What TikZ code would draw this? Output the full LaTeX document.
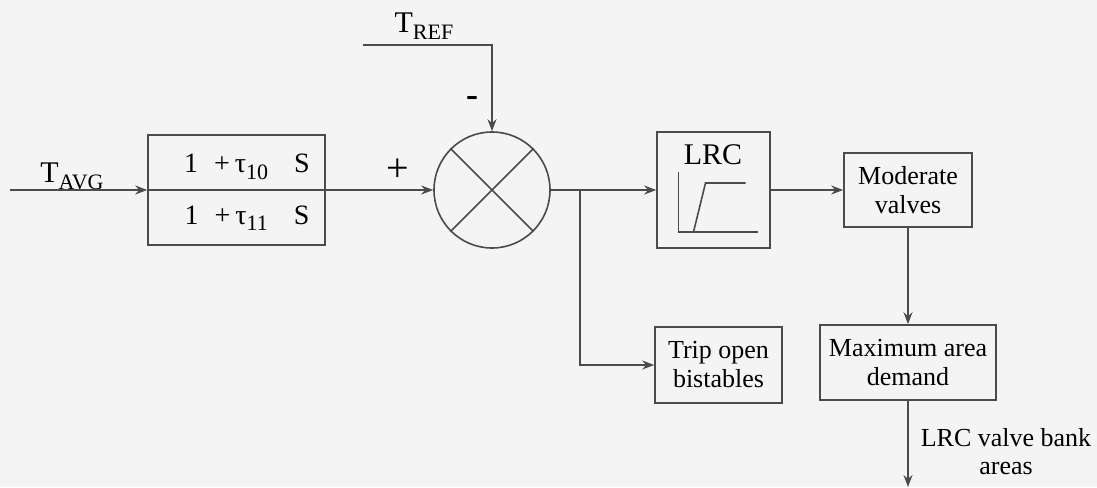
\documentclass[tikz,border=0pt]{standalone}
\usepackage{fontspec}
\setmainfont{Liberation Serif}
\usetikzlibrary{arrows.meta,positioning,calc}
\definecolor{scanbg}{RGB}{244,244,244}
\definecolor{ink}{RGB}{75,75,75}
\newcommand{\lowidx}[1]{\raisebox{-0.5ex}{\fontsize{11}{11}\selectfont #1}}
\begin{document}
\begin{tikzpicture}[x=0.5pt,y=-0.5pt,
  blk/.style={draw=ink,line width=0.8pt,minimum width=#1,inner sep=0pt,align=center,font=\fontsize{13}{14.5}\selectfont},
  wire/.style={draw=ink,line width=0.8pt},
  arr/.style={wire,-{Stealth[length=6pt,width=4.5pt]}}]
\fill[scanbg] (0,0) rectangle (1097,487);
\useasboundingbox (0,0) rectangle (1097,487);
\node[blk=88.5pt,minimum height=55pt] (lead) at (236.5,190) {};
\draw[wire] (lead.west)--(lead.east);
\node[font=\fontsize{14}{14}\selectfont] (leadnum) at (247,167) {1\hspace{8pt}+\hspace{2.5pt}τ\lowidx{10}\hspace{13pt}S};
\node[font=\fontsize{14}{14}\selectfont] (leadden) at (247,218) {1\hspace{8pt}+\hspace{2.5pt}τ\lowidx{11}\hspace{13pt}S};
\node[draw=ink,line width=0.8pt,circle,minimum size=58pt,inner sep=0pt] (sum) at (492,190) {};
\draw[wire] (sum.45)--(sum.225) (sum.135)--(sum.-45);
\node[blk=56.5pt,minimum height=58pt] (lrc) at (713.5,190) {};
\node[font=\fontsize{15}{15}\selectfont] (lrclbl) at (713,155) {LRC};
\draw[wire] ($(lrc.center)+(-35,-18)$)--($(lrc.center)+(-35,42)$)--($(lrc.center)+(44,42)$);
\draw[wire] ($(lrc.center)+(-20,42)$)--($(lrc.center)+(-8,-7)$)--($(lrc.center)+(32,-7)$);
\node[blk=64pt,minimum height=37pt] (mod) at (908,190) {Moderate\\valves};
\node[blk=88pt,minimum height=37.5pt] (maxd) at (908,362.5) {Maximum area\\demand};
\node[blk=63.5pt,minimum height=38pt] (trip) at (718.5,365) {Trip open\\bistables};
\coordinate (tavgin) at (10,190);
\coordinate (trefin) at (363,45);
\coordinate (br) at (580,190);
\coordinate (outend) at (908,487);
\node[font=\fontsize{15}{15}\selectfont] (tavg) at (72,176) {T\lowidx{AVG}};
\node[font=\fontsize{15}{15}\selectfont] (tref) at (424,26) {T\lowidx{REF}};
\node[font=\fontsize{20}{20}\selectfont] (plus) at (398,170) {+};
\node[font=\fontsize{18}{18}\selectfont\bfseries] (minus) at (472,101) {-};
\node[font=\fontsize{13}{14}\selectfont,align=center] (bankareas) at (1006,452) {LRC valve bank\\areas};
\draw[arr] (tavgin)--(lead.west);
\draw[arr] (lead.east)--(sum.west);
\draw[arr] (trefin)-|(sum.north);
\draw[arr] (sum.east)--(lrc.west);
\draw[arr] (br)|-(trip.west);
\draw[arr] (lrc.east)--(mod.west);
\draw[arr] (mod.south)--(maxd.north);
\draw[arr] (maxd.south)--(outend);
\end{tikzpicture}
\end{document}
